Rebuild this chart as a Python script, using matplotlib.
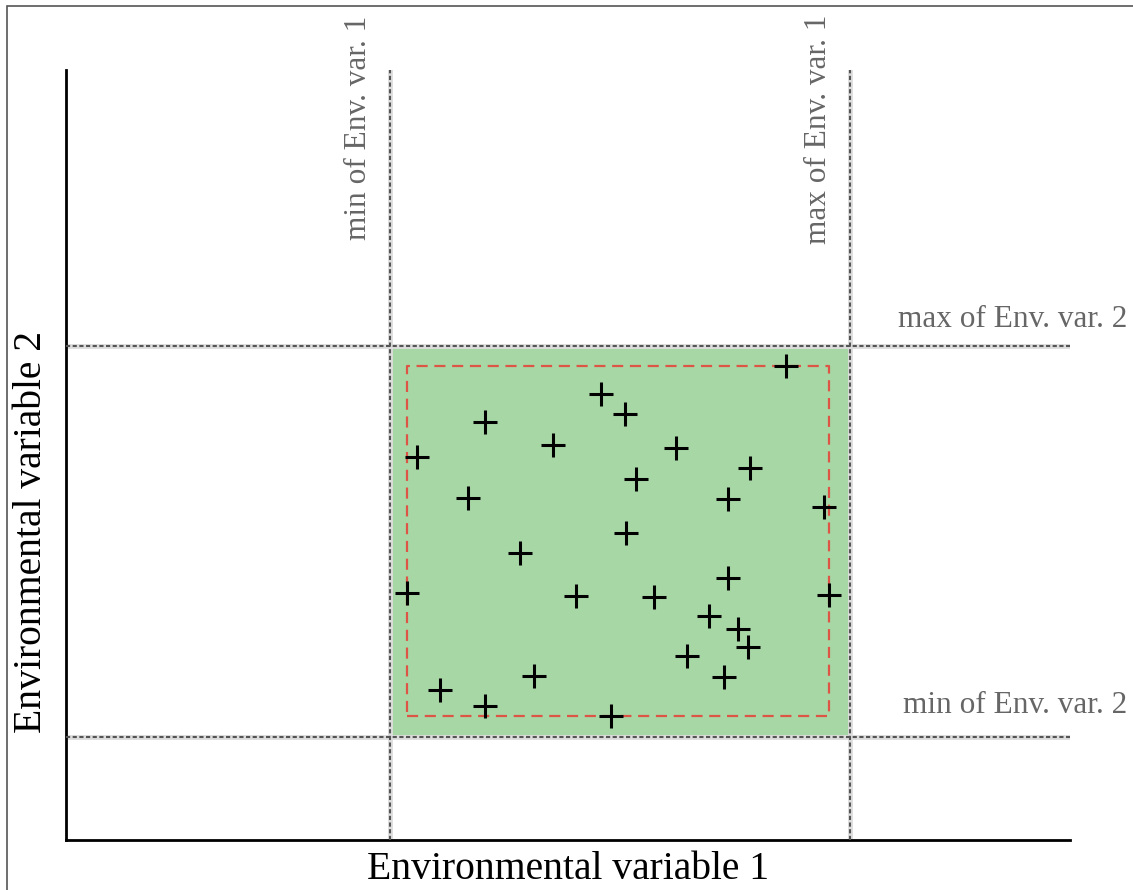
import matplotlib.pyplot as plt
from matplotlib.patches import Rectangle

# environmental range (data units on 0-10 axes)
env1_min, env1_max = 3.23, 7.81
env2_min, env2_max = 1.34, 6.42

# occurrence points
px = [7.17, 5.33, 5.57, 4.17, 4.85, 6.08, 3.50, 6.81, 5.68, 4.00, 6.59, 7.55, 5.58, 4.52,
      6.59, 3.40, 5.08, 5.86, 7.60, 6.40, 6.69, 6.79, 6.19, 4.66, 6.55, 3.72, 4.17, 5.43]
py = [6.16, 5.79, 5.53, 5.43, 5.13, 5.09, 4.97, 4.83, 4.69, 4.44, 4.43, 4.32, 3.99, 3.73,
      3.40, 3.21, 3.17, 3.16, 3.18, 2.91, 2.74, 2.51, 2.39, 2.13, 2.12, 1.95, 1.74, 1.61]

plt.rcParams['font.family'] = ['Liberation Serif', 'DejaVu Serif']

fig = plt.figure(figsize=(11.33, 8.9), dpi=100)
ax = fig.add_axes([0.0583, 0.0562, 0.8861, 0.8651])
ax.set_xlim(0, 10)
ax.set_ylim(0, 10)

# figure frame
fig.patches.append(Rectangle((0.0062, -0.05), 1.1, 0.0433 + 1.0, transform=fig.transFigure,
                             fill=False, edgecolor='#555555', lw=1.2, zorder=0))

# green area of the environmental range
ax.add_patch(Rectangle((env1_min, env2_min), env1_max - env1_min, env2_max - env2_min,
                       facecolor='#a8d7a6', edgecolor='none', zorder=1))

# range limit lines
for v in [env1_min, env1_max]:
    ax.axvline(v, color='#dddddd', lw=3.5, zorder=2)
    ax.axvline(v, color='#555555', lw=1.5, ls=(0, (2, 1.2)), zorder=3)
for v in [env2_min, env2_max]:
    ax.axhline(v, color='#dddddd', lw=3.5, zorder=2)
    ax.axhline(v, color='#555555', lw=1.5, ls=(0, (2, 1.2)), zorder=3)

# bounding box of the points
bx0, bx1 = min(px), max(px)
by0, by1 = min(py), max(py)
ax.plot([bx0, bx1, bx1, bx0, bx0], [by0, by0, by1, by1, by0], color='#dd5544',
        lw=1.6, ls=(0, (5, 3)), zorder=4)

ax.plot(px, py, '+', color='black', ms=17, mew=2.2, zorder=5)

tc = '#666666'
ax.text(env1_min - 0.17, 7.79, 'min of Env. var. 1', rotation=90, ha='right', va='bottom',
        fontsize=22.5, color=tc, clip_on=False)
ax.text(env1_max - 0.17, 7.74, 'max of Env. var. 1', rotation=90, ha='right', va='bottom',
        fontsize=22.5, color=tc, clip_on=False)
ax.text(10.57, env2_max + 0.15, 'max of Env. var. 2', ha='right', va='bottom',
        fontsize=22.5, color=tc, clip_on=False)
ax.text(10.57, env2_min + 0.22, 'min of Env. var. 2', ha='right', va='bottom',
        fontsize=22.5, color=tc, clip_on=False)

ax.set_xlabel('Environmental variable 1', fontsize=28.5, labelpad=8)
ax.set_ylabel('Environmental variable 2', fontsize=28.5)
ax.yaxis.set_label_coords(-0.016, 0.40)
ax.set_xticks([])
ax.set_yticks([])
ax.spines['top'].set_visible(False)
ax.spines['right'].set_visible(False)
ax.spines['left'].set_linewidth(2)
ax.spines['bottom'].set_linewidth(2)

fig.savefig('out.png', dpi=100)
